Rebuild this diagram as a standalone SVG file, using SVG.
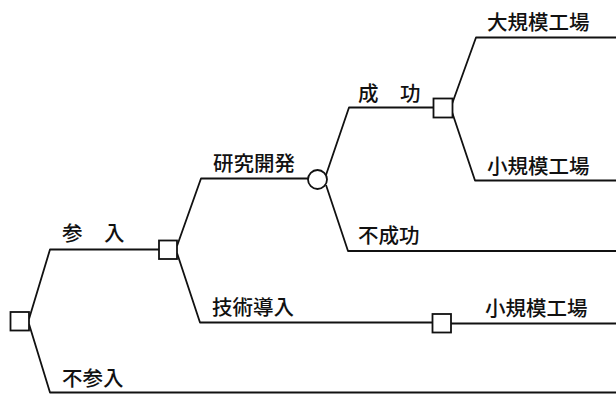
<svg xmlns="http://www.w3.org/2000/svg" width="616" height="396" viewBox="0 0 616 396">
<style>
.e{fill:none;stroke:#111;stroke-width:1.8;stroke-linejoin:round}
.n{fill:#fff;stroke:#111;stroke-width:1.8}
.t{font-family:"Noto Sans CJK JP","Noto Sans CJK SC",sans-serif;font-size:20.5px;font-weight:500;fill:#111}
</style>
<rect width="616" height="396" fill="#fff"/>
<g id="connectors">
<path class="e" d="M29,319 L50,249.5 L159,249.5"/>
<path class="e" d="M29,324 L50,392.5 L616,392.5"/>
<path class="e" d="M177,246 L201,178.5 L308,178.5"/>
<path class="e" d="M177,253 L200,322.5 L432,322.5"/>
<path class="e" d="M451,323.5 L616,323.5"/>
<path class="e" d="M326,175 L349,107.5 L433,107.5"/>
<path class="e" d="M326,185 L348,251 L616,251"/>
<path class="e" d="M452,104 L476,37.5 L616,37.5"/>
<path class="e" d="M452,112 L475,180.5 L616,180.5"/>
</g>
<g id="root"><rect class="n" x="10.5" y="312" width="18.5" height="18.5"/></g>
<g id="d-entry"><rect class="n" x="159" y="240.5" width="18" height="18.5"/></g>
<g id="c-rd"><circle class="n" cx="317.5" cy="179.5" r="9.5"/></g>
<g id="d-success"><rect class="n" x="433.5" y="98.5" width="19" height="19"/></g>
<g id="d-tech"><rect class="n" x="432.5" y="314" width="18.5" height="18.5"/></g>
<g id="labels">
<text class="t" x="62" y="241">参</text>
<text class="t" x="104" y="241">入</text>
<text class="t" x="62" y="386">不参入</text>
<text class="t" x="213" y="171">研究開発</text>
<text class="t" x="212" y="315">技術導入</text>
<text class="t" x="358" y="101">成</text>
<text class="t" x="400" y="101">功</text>
<text class="t" x="358" y="243">不成功</text>
<text class="t" x="487" y="30">大規模工場</text>
<text class="t" x="487" y="174">小規模工場</text>
<text class="t" x="485" y="316">小規模工場</text>
</g>
</svg>
